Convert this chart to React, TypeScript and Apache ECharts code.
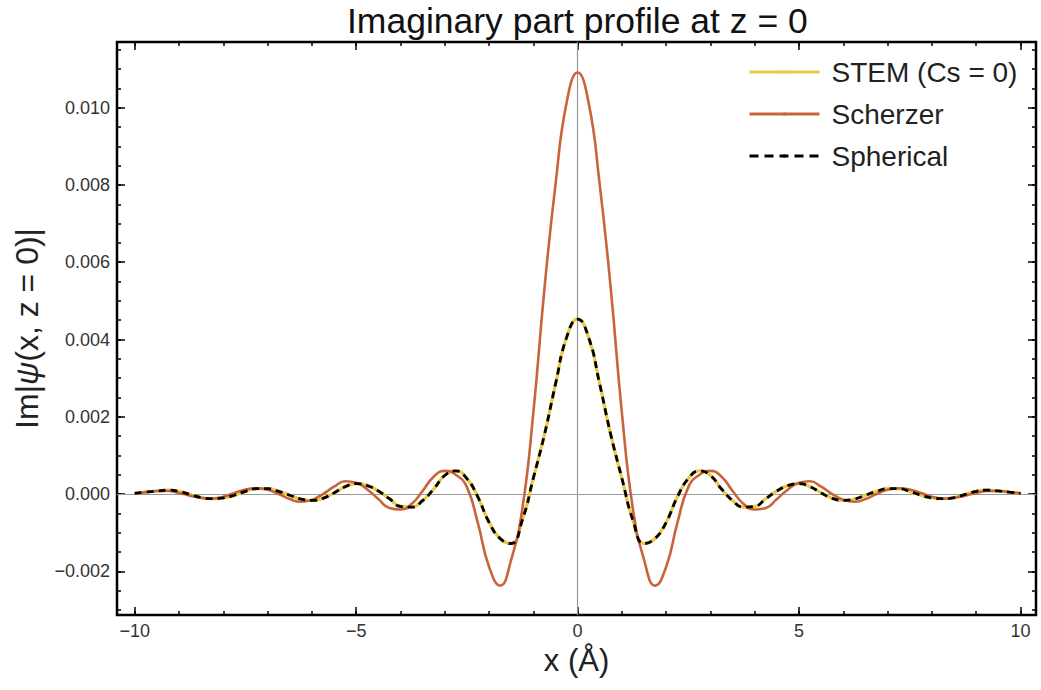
import React, { useEffect, useRef } from "react";
import * as echarts from "echarts";

// Sample grid: x from -10 to 10 Å in steps of 0.25
const X_START = -10;
const X_STEP = 0.25;

// Values in units of 1e-3
const stemValues = [
  0.02, 0.05, 0.08, 0.10, 0.07, -0.01, -0.09, -0.12, -0.10, -0.03,
  0.07, 0.14, 0.14, 0.07, -0.03, -0.13, -0.165, -0.11, 0.03, 0.19,
  0.27, 0.22, 0.08, -0.12, -0.32, -0.34, -0.17, 0.13, 0.48, 0.60,
  0.40, -0.08, -0.73, -1.15, -1.28, -0.68, 0.41, 1.53, 2.84, 4.05,
  4.53,
  4.05, 2.84, 1.53, 0.41, -0.68, -1.28, -1.15, -0.73, -0.08, 0.40,
  0.60, 0.48, 0.13, -0.17, -0.34, -0.32, -0.12, 0.08, 0.22, 0.27,
  0.19, 0.03, -0.11, -0.165, -0.13, -0.03, 0.07, 0.14, 0.14, 0.07,
  -0.03, -0.10, -0.12, -0.09, -0.01, 0.07, 0.10, 0.08, 0.05, 0.02,
];

const scherzerValues = [
  0.02, 0.05, 0.08, 0.08, 0.03, -0.04, -0.10, -0.12, -0.07, 0.03,
  0.12, 0.15, 0.11, 0.00, -0.13, -0.20, -0.15, 0.00, 0.19, 0.33,
  0.29, 0.12, -0.13, -0.36, -0.40, -0.26, 0.08, 0.45, 0.60, 0.50,
  0.18, -0.76, -1.88, -2.37, -1.70, -0.40, 2.1, 5.3, 8.0, 10.12,
  10.91,
  10.12, 8.0, 5.3, 2.1, -0.40, -1.70, -2.37, -1.88, -0.76, 0.18,
  0.50, 0.60, 0.45, 0.08, -0.26, -0.40, -0.36, -0.13, 0.12, 0.29,
  0.33, 0.19, 0.00, -0.15, -0.20, -0.13, 0.00, 0.11, 0.15, 0.12,
  0.03, -0.07, -0.12, -0.10, -0.04, 0.03, 0.08, 0.08, 0.05, 0.02,
];

// The spherical-aberration curve lies exactly on top of the STEM curve
const sphericalValues = stemValues.slice();

const seriesNames = ["STEM (Cs = 0)", "Scherzer", "Spherical"];
const seriesColors = ["#e9c845", "#c8643c", "#000000"];

const xMajorTicks = [-10, -5, 0, 5, 10];
const xMinorTicks = [-10, -9, -8, -7, -6, -5, -4, -3, -2, -1, 0, 1, 2, 3, 4, 5, 6, 7, 8, 9, 10];
const yMajorTicks = [-2, 0, 2, 4, 6, 8, 10];
const yMinorTicks = [
  -3, -2.5, -2, -1.5, -1, -0.5, 0, 0.5, 1, 1.5, 2, 2.5, 3, 3.5, 4, 4.5, 5, 5.5,
  6, 6.5, 7, 7.5, 8, 8.5, 9, 9.5, 10, 10.5, 11, 11.5,
];

const X_MIN = -10.4;
const X_MAX = 10.35;
const Y_MIN = -3.13;
const Y_MAX = 11.7;

const FONT = "'Liberation Sans', Arial, Helvetica, sans-serif";

const toPairs = (vals: number[]) => vals.map((v, i) => [X_START + i * X_STEP, v]);

const minus = (s: string) => s.replace("-", "\u2212");

export default function App() {
  const ref = useRef<HTMLDivElement>(null);

  useEffect(() => {
    if (!ref.current) return;
    const chart = echarts.init(ref.current, null, { renderer: "svg" });

    const tickLine = { color: "#000", width: 1.5 };

    const xAxisBase = (position: "top" | "bottom", ticks: number[], len: number, labels: boolean, name?: string) => ({
      type: "value",
      position,
      min: X_MIN,
      max: X_MAX,
      axisLine: { show: false, onZero: false },
      splitLine: { show: false },
      axisTick: { show: true, inside: true, length: len, lineStyle: tickLine, customValues: ticks },
      axisLabel: labels
        ? {
            show: true,
            customValues: ticks,
            margin: 7,
            fontSize: 18,
            fontFamily: FONT,
            color: "#333",
            formatter: (v: number) => minus(String(v)),
          }
        : { show: false },
      name: name || "",
      nameLocation: "middle",
      nameGap: 29,
      nameTextStyle: { fontSize: 31, fontFamily: FONT, color: "#222" },
    });

    const yAxisBase = (position: "left" | "right", ticks: number[], len: number, labels: boolean, withName: boolean) => ({
      type: "value",
      position,
      min: Y_MIN,
      max: Y_MAX,
      axisLine: { show: false, onZero: false },
      splitLine: { show: false },
      axisTick: { show: true, inside: true, length: len, lineStyle: tickLine, customValues: ticks },
      axisLabel: labels
        ? {
            show: true,
            customValues: ticks,
            margin: 7,
            fontSize: 18,
            fontFamily: FONT,
            color: "#333",
            formatter: (v: number) => minus((v / 1000).toFixed(3)),
          }
        : { show: false },
      name: withName ? "{a|Im|}{b|\u03c8}{a|(x, z = 0)|}" : "",
      nameLocation: "middle",
      nameRotate: 90,
      nameGap: 74,
      nameTextStyle: {
        fontSize: 32,
        fontFamily: FONT,
        color: "#222",
        rich: {
          a: { fontSize: 32, fontFamily: FONT, color: "#222" },
          b: { fontSize: 32, fontFamily: FONT, color: "#222", fontStyle: "italic" },
        },
      },
    });

    chart.setOption({
      animation: false,
      backgroundColor: "#fff",
      title: {
        text: "Imaginary part profile at z = 0",
        left: 347,
        top: 3,
        padding: 0,
        textStyle: { fontSize: 35.5, fontWeight: "normal", fontFamily: FONT, color: "#111" },
      },
      legend: {
        data: [
          { name: seriesNames[0], lineStyle: { width: 3, color: seriesColors[0] } },
          { name: seriesNames[1], lineStyle: { width: 3, color: seriesColors[1] } },
          { name: seriesNames[2], lineStyle: { width: 3, color: seriesColors[2], type: [9, 6] } },
        ],
        orient: "vertical",
        left: 748,
        top: 58,
        padding: 0,
        itemWidth: 70,
        itemHeight: 4,
        itemGap: 14,
        textStyle: { fontSize: 28, fontFamily: FONT, color: "#222", padding: [0, 0, 0, 7] },
      },
      grid: {
        left: 117,
        right: 5,
        top: 42,
        bottom: 75,
        show: true,
        borderColor: "#000",
        borderWidth: 2.5,
        backgroundColor: "transparent",
      },
      xAxis: [
        xAxisBase("bottom", xMajorTicks, 8, true, "x (\u00c5)"),
        xAxisBase("bottom", xMinorTicks, 4, false),
        xAxisBase("top", xMajorTicks, 8, false),
        xAxisBase("top", xMinorTicks, 4, false),
      ],
      yAxis: [
        yAxisBase("left", yMajorTicks, 8, true, true),
        yAxisBase("left", yMinorTicks, 4, false, false),
        yAxisBase("right", yMajorTicks, 8, false, false),
        yAxisBase("right", yMinorTicks, 4, false, false),
      ],
      series: [
        {
          name: seriesNames[0],
          type: "line",
          xAxisIndex: 0,
          yAxisIndex: 0,
          data: toPairs(stemValues),
          smooth: true,
          symbol: "none",
          showSymbol: false,
          z: 2,
          lineStyle: { color: seriesColors[0], width: 3.2 },
          itemStyle: { color: seriesColors[0] },
          markLine: {
            silent: true,
            z: 1,
            symbol: ["none", "none"],
            label: { show: false },
            lineStyle: { color: "#999", width: 1.2, type: "solid" },
            data: [{ xAxis: 0 }, { yAxis: 0 }],
          },
        },
        {
          name: seriesNames[1],
          type: "line",
          xAxisIndex: 0,
          yAxisIndex: 0,
          data: toPairs(scherzerValues),
          smooth: true,
          symbol: "none",
          showSymbol: false,
          z: 3,
          lineStyle: { color: seriesColors[1], width: 2.6 },
          itemStyle: { color: seriesColors[1] },
        },
        {
          name: seriesNames[2],
          type: "line",
          xAxisIndex: 0,
          yAxisIndex: 0,
          data: toPairs(sphericalValues),
          smooth: true,
          symbol: "none",
          showSymbol: false,
          z: 4,
          lineStyle: { color: seriesColors[2], width: 2.8, type: [7, 5] },
          itemStyle: { color: seriesColors[2] },
        },
      ],
    });

    return () => chart.dispose();
  }, []);

  return (
    <div
      ref={ref}
      style={{ position: "fixed", left: 0, top: 0, width: 1041, height: 690, background: "#fff" }}
    />
  );
}
